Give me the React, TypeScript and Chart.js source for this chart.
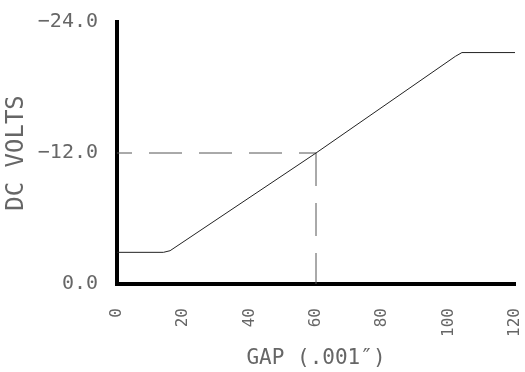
import React, { useEffect, useRef } from "react";
import { Chart, registerables } from "chart.js";

Chart.register(...registerables);

const gapValues = [0, 14, 16, 60, 102, 104, 120];
const voltValues = [-2.9, -2.9, -3.05, -12.0, -20.85, -21.2, -21.2];
const markerGap = [0, 60];
const markerVoltH = [-12, -12];
const markerGapV = [60, 60];
const markerVoltV = [-12, 0];
const yTickValues = [-24, -12, 0];
const xTickValues = [0, 20, 40, 60, 80, 100, 120];

const FONT = "'DejaVu Sans Mono', monospace";
const TEXT = "#666";

export default function App() {
  const ref = useRef<HTMLCanvasElement | null>(null);
  useEffect(() => {
    if (!ref.current) return;
    const toPts = (xs: number[], ys: number[]) => xs.map((x, i) => ({ x, y: ys[i] }));
    const chart = new Chart(ref.current, {
      type: "line",
      data: {
        datasets: [
          {
            data: toPts(gapValues, voltValues),
            borderColor: "#222",
            borderWidth: 1,
            pointRadius: 0,
            tension: 0,
          },
          {
            data: toPts(markerGap, markerVoltH),
            borderColor: "#555",
            borderWidth: 1,
            borderDash: [33, 17],
            borderDashOffset: 18,
            pointRadius: 0,
          },
          {
            data: toPts(markerGapV, markerVoltV),
            borderColor: "#555",
            borderWidth: 1,
            borderDash: [33, 17],
            pointRadius: 0,
          },
        ],
      },
      options: {
        animation: false,
        responsive: false,
        maintainAspectRatio: false,
        layout: { padding: { top: 22, right: 10, left: 0, bottom: 0 } },
        plugins: { legend: { display: false }, tooltip: { enabled: false } },
        scales: {
          x: {
            type: "linear",
            min: 0,
            max: 120,
            afterFit: (s: any) => {
              s.height = 88;
              s.paddingLeft = 0;
              s.paddingRight = 0;
            },
            afterBuildTicks: (s: any) => {
              s.ticks = xTickValues.map((v) => ({ value: v }));
            },
            grid: { display: false },
            border: { display: true, color: "#000", width: 4 },
            ticks: {
              minRotation: 90,
              maxRotation: 90,
              padding: 16,
              color: TEXT,
              font: { family: FONT, size: 16 },
              callback: (v: any) => String(v),
            },
            title: {
              display: true,
              text: "GAP (.001″)",
              color: TEXT,
              font: { family: FONT, size: 21 },
              padding: { top: 0, bottom: 1 },
            },
          },
          y: {
            type: "linear",
            min: -24,
            max: 0,
            reverse: true,
            afterFit: (s: any) => {
              s.width = 117;
              s.paddingTop = 0;
              s.paddingBottom = 0;
            },
            afterBuildTicks: (s: any) => {
              s.ticks = yTickValues.map((v) => ({ value: v }));
            },
            grid: { display: false },
            border: { display: true, color: "#000", width: 4 },
            ticks: {
              padding: 11,
              color: TEXT,
              font: { family: FONT, size: 20 },
              callback: (v: any) => (v < 0 ? "−" + Math.abs(v).toFixed(1) : Number(v).toFixed(1)),
            },
            title: {
              display: true,
              text: "DC VOLTS",
              color: TEXT,
              font: { family: FONT, size: 24 },
              padding: { top: 2, bottom: 0 },
            },
          },
        },
      },
    });
    return () => chart.destroy();
  }, []);
  return (
    <div style={{ position: "fixed", left: 0, top: 0, width: 525, height: 372, background: "#fff" }}>
      <canvas ref={ref} width={525} height={372} style={{ width: 525, height: 372 }} />
    </div>
  );
}
